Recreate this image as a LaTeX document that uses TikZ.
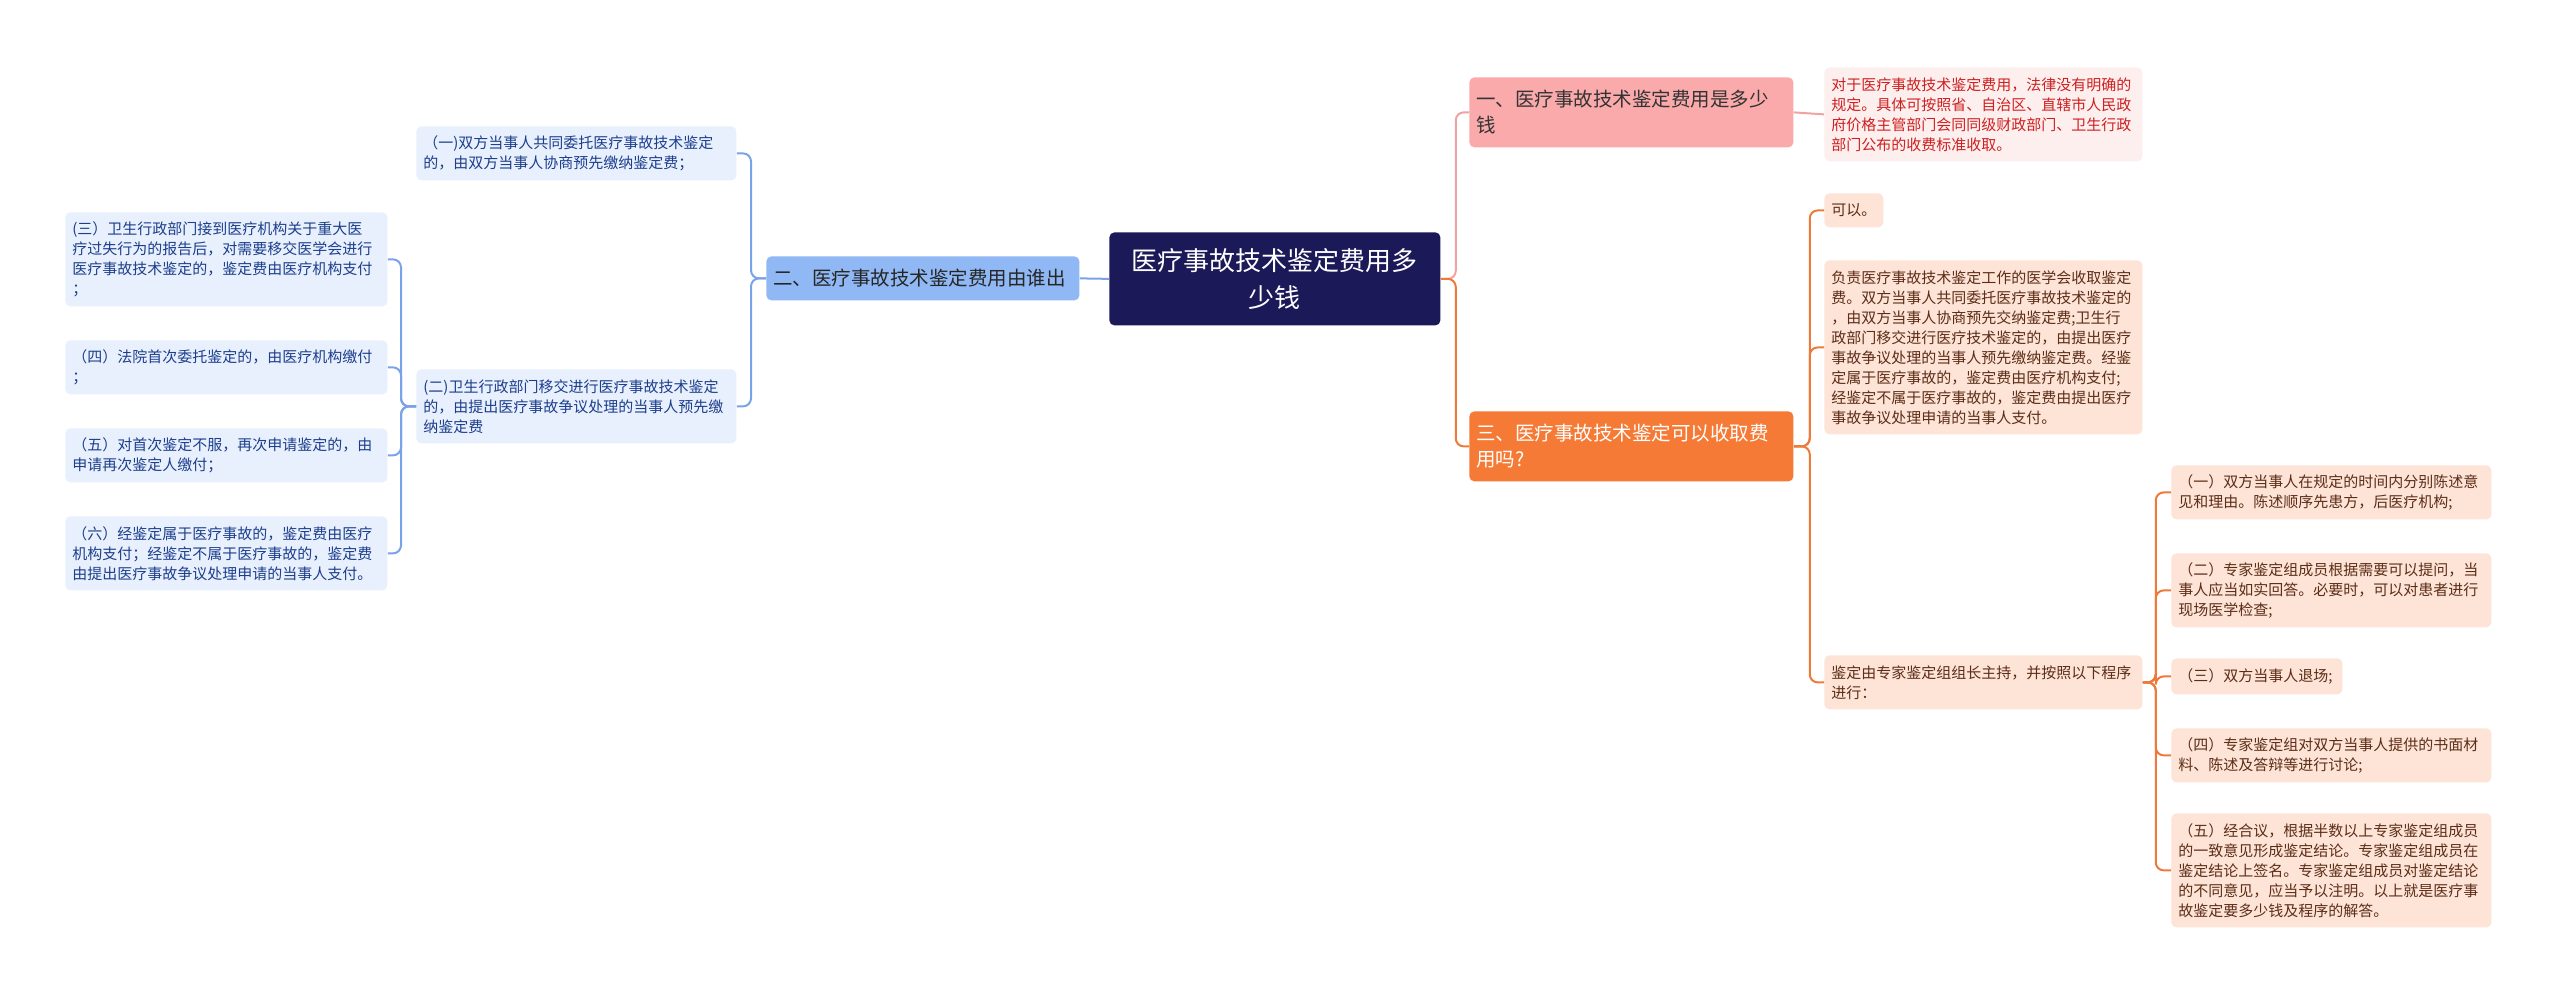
\documentclass[tikz,border=0pt]{standalone}
\usepackage{fontspec}
\setmainfont{Noto Sans CJK SC}
\usetikzlibrary{positioning}

\definecolor{rootc}{RGB}{27,25,88}
\definecolor{blueB}{RGB}{143,184,245}
\definecolor{blueL}{RGB}{232,240,253}
\definecolor{blueT}{RGB}{28,62,140}
\definecolor{blueLn}{RGB}{122,162,232}
\definecolor{pinkB}{RGB}{250,170,170}
\definecolor{pinkL}{RGB}{254,239,239}
\definecolor{pinkT}{RGB}{205,32,32}
\definecolor{pinkLn}{RGB}{241,162,162}
\definecolor{orngB}{RGB}{245,122,54}
\definecolor{orngL}{RGB}{253,228,214}
\definecolor{orngT}{RGB}{92,45,24}
\definecolor{orngLn}{RGB}{238,122,58}

\tikzset{
box/.style={rounded corners=5pt, anchor=north west, inner xsep=7pt, inner ysep=2pt, align=left},
rootbox/.style={box, fill=rootc, text=white, align=center, font=\fontsize{26}{37}\selectfont},
branchbox/.style={box, font=\fontsize{19.5}{26}\selectfont},
leafbox/.style={box, font=\fontsize{15}{20}\selectfont},
link/.style={line width=2pt, rounded corners=8pt}}
\tikzset{every picture/.style={line width=0.75pt}}

\begin{document}
\begin{tikzpicture}[x=1pt,y=1pt,yscale=-1,xscale=1]
\fill[white] (0,0) rectangle (2560,995);
\useasboundingbox (0,0) rectangle (2560,995);

% Root
\node [rootbox, text width=317, minimum height=93] (root) at (1109,232) {医疗事故技术鉴定费用多\\少钱};

% Left branch
\node [branchbox, fill=blueB, text=black!85, text width=299, minimum height=44] (b2) at (766,256) {二、医疗事故技术鉴定费用由谁出};
\node [leafbox, fill=blueL, text=blueT, text width=306, minimum height=54] (l2a) at (416,126) {（一)双方当事人共同委托医疗事故技术鉴定\\的，由双方当事人协商预先缴纳鉴定费；};
\node [leafbox, fill=blueL, text=blueT, text width=306, minimum height=74] (l2b) at (416,369) {(二)卫生行政部门移交进行医疗事故技术鉴定\\的，由提出医疗事故争议处理的当事人预先缴\\纳鉴定费};
\node [leafbox, fill=blueL, text=blueT, text width=308, minimum height=94] (l3a) at (65,212) {(三）卫生行政部门接到医疗机构关于重大医\\疗过失行为的报告后，对需要移交医学会进行\\医疗事故技术鉴定的，鉴定费由医疗机构支付\\；};
\node [leafbox, fill=blueL, text=blueT, text width=308, minimum height=54] (l3b) at (65,340) {（四）法院首次委托鉴定的，由医疗机构缴付\\；};
\node [leafbox, fill=blueL, text=blueT, text width=308, minimum height=54] (l3c) at (65,428) {（五）对首次鉴定不服，再次申请鉴定的，由\\申请再次鉴定人缴付；};
\node [leafbox, fill=blueL, text=blueT, text width=308, minimum height=74] (l3d) at (65,516) {（六）经鉴定属于医疗事故的，鉴定费由医疗\\机构支付；经鉴定不属于医疗事故的，鉴定费\\由提出医疗事故争议处理申请的当事人支付。};

% Right branch one
\node [branchbox, fill=pinkB, text=black!80, text width=310, minimum height=70] (b1) at (1469,77) {一、医疗事故技术鉴定费用是多少\\钱};
\node [leafbox, fill=pinkL, text=pinkT, text width=304, minimum height=94] (r1) at (1824,67) {对于医疗事故技术鉴定费用，法律没有明确的\\规定。具体可按照省、自治区、直辖市人民政\\府价格主管部门会同同级财政部门、卫生行政\\部门公布的收费标准收取。};

% Right branch three
\node [branchbox, fill=orngB, text=white, text width=310, minimum height=70] (b3) at (1469,411) {三、医疗事故技术鉴定可以收取费\\用吗?};
\node [leafbox, fill=orngL, text=orngT, text width=45, minimum height=34] (r3a) at (1824,193) {可以。};
\node [leafbox, fill=orngL, text=orngT, text width=304, minimum height=174] (r3b) at (1824,260) {负责医疗事故技术鉴定工作的医学会收取鉴定\\费。双方当事人共同委托医疗事故技术鉴定的\\，由双方当事人协商预先交纳鉴定费;卫生行\\政部门移交进行医疗技术鉴定的，由提出医疗\\事故争议处理的当事人预先缴纳鉴定费。经鉴\\定属于医疗事故的，鉴定费由医疗机构支付;\\经鉴定不属于医疗事故的，鉴定费由提出医疗\\事故争议处理申请的当事人支付。};
\node [leafbox, fill=orngL, text=orngT, text width=304, minimum height=54] (r3c) at (1824,655) {鉴定由专家鉴定组组长主持，并按照以下程序\\进行：};

% Steps
\node [leafbox, fill=orngL, text=orngT, text width=306, minimum height=54] (s1) at (2171,465) {（一）双方当事人在规定的时间内分别陈述意\\见和理由。陈述顺序先患方，后医疗机构;};
\node [leafbox, fill=orngL, text=orngT, text width=306, minimum height=74] (s2) at (2171,553) {（二）专家鉴定组成员根据需要可以提问，当\\事人应当如实回答。必要时，可以对患者进行\\现场医学检查;};
\node [leafbox, fill=orngL, text=orngT, text width=157, minimum height=36] (s3) at (2171,658) {（三）双方当事人退场;};
\node [leafbox, fill=orngL, text=orngT, text width=306, minimum height=54] (s4) at (2171,728) {（四）专家鉴定组对双方当事人提供的书面材\\料、陈述及答辩等进行讨论;};
\node [leafbox, fill=orngL, text=orngT, text width=306, minimum height=114] (s5) at (2171,813) {（五）经合议，根据半数以上专家鉴定组成员\\的一致意见形成鉴定结论。专家鉴定组成员在\\鉴定结论上签名。专家鉴定组成员对鉴定结论\\的不同意见，应当予以注明。以上就是医疗事\\故鉴定要多少钱及程序的解答。};

% Connectors
\draw [link, blueLn] (root.west) -- (b2.east);
\foreach \n in {l2a,l2b}
  \draw [link, blueLn] (b2.west) -- ++(-15,0) |- (\n.east);
\foreach \n in {l3a,l3b,l3c,l3d}
  \draw [link, blueLn] (l2b.west) -- ++(-15,0) |- (\n.east);
\draw [link, pinkLn] (root.east) -- ++(15,0) |- (b1.west);
\draw [link, orngLn] (root.east) -- ++(15,0) |- (b3.west);
\draw [link, pinkLn] (b1.east) -- (r1.west);
\foreach \n in {r3a,r3b,r3c}
  \draw [link, orngLn] (b3.east) -- ++(16,0) |- (\n.west);
\foreach \n in {s1,s2,s3,s4,s5}
  \draw [link, orngLn] (r3c.east) -- ++(13,0) |- (\n.west);

\end{tikzpicture}
\end{document}
